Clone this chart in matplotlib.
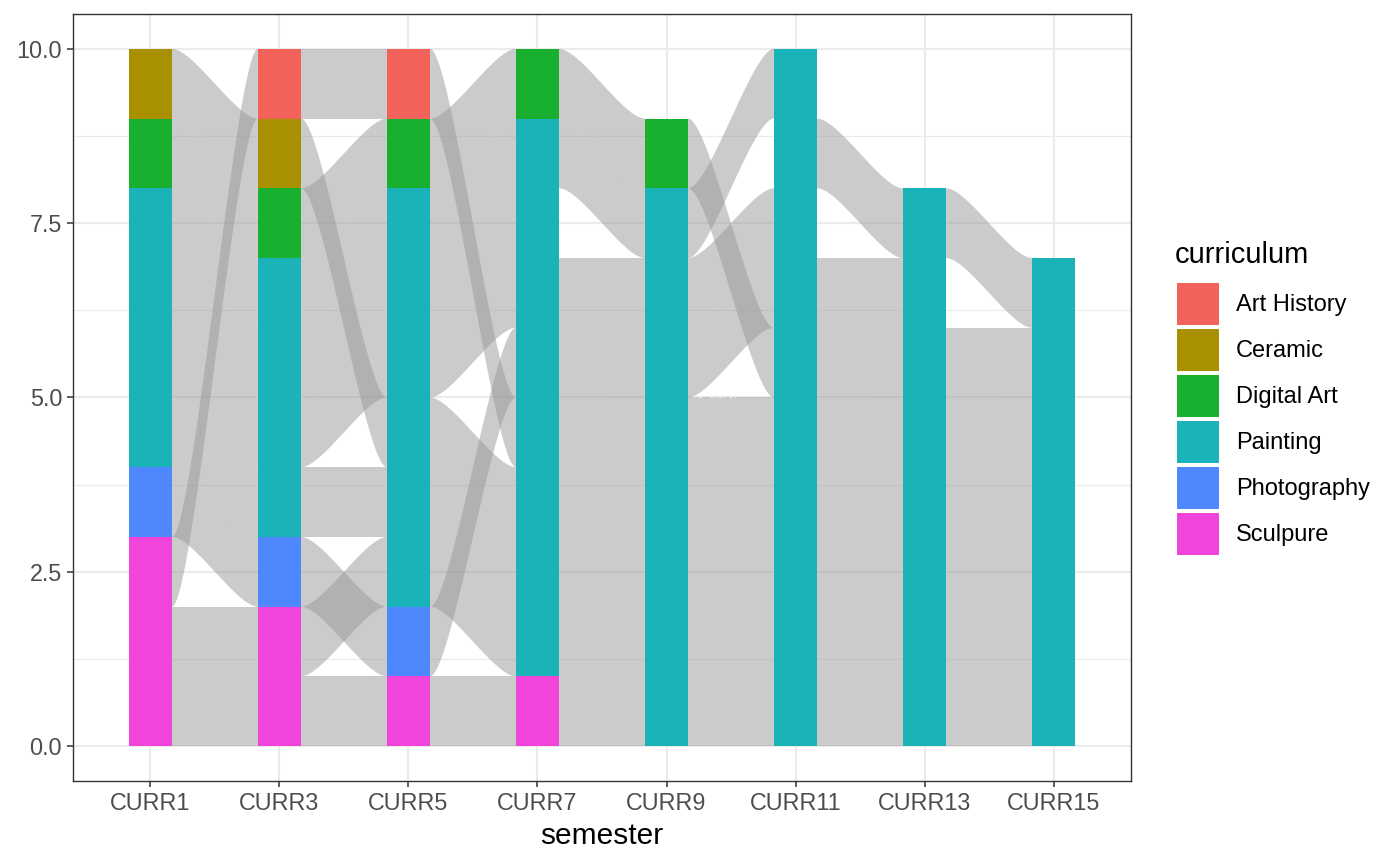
import numpy as np
import matplotlib
matplotlib.use("Agg")
import matplotlib.pyplot as plt
from matplotlib.patches import Rectangle, Polygon

plt.rcParams['font.family'] = ['Liberation Sans', 'DejaVu Sans']

# semestres y categorias
semesters = ["CURR1", "CURR3", "CURR5", "CURR7", "CURR9", "CURR11", "CURR13", "CURR15"]
curricula = ["Art History", "Ceramic", "Digital Art", "Painting", "Photography", "Sculpure"]
colors = ["#F3615B", "#A89000", "#1AB02F", "#19B3B8", "#4F87FF", "#F044DB"]

AH, CE, DA, PA, PH, SC = curricula
# one path per student, listed in stacking order (first = top within its stratum)
# None = student absent that semester
paths = [
    [PA, PA, PA, PA, PA, PA, None, None],
    [PA, PA, PA, PA, None, PA, PA, PA],
    [PA, PA, PA, PA, PA, PA, None, None],
    [PH, PH, PH, PA, PA, PA, PA, None],
    [DA, DA, DA, DA, DA, PA, PA, PA],
    [SC, AH, AH, PA, PA, PA, PA, PA],
    [CE, CE, PA, PA, PA, PA, PA, PA],
    [PA, PA, PA, PA, PA, PA, PA, PA],
    [SC, SC, PA, PA, PA, PA, PA, PA],
    [SC, SC, SC, SC, PA, PA, PA, PA],
]

n_sem = len(semesters)
xs = np.arange(1, n_sem + 1)
width = 1 / 3

# stack lodes: last curriculum at the bottom, first student on top of its stratum
lodes = {}
strata = []
for j in range(n_sem):
    y = 0
    for cur in reversed(curricula):
        start = y
        for s in reversed(range(len(paths))):
            if paths[s][j] == cur:
                lodes[(s, j)] = (y, y + 1)
                y += 1
        if y > start:
            strata.append((xs[j], start, y, cur))


def curve(x0, x1, y0, y1, n=80):
    t = np.linspace(0, 1, n)
    dx = x1 - x0
    bx = (1 - t)**3 * x0 + 3 * (1 - t)**2 * t * (x0 + dx / 4) + 3 * (1 - t) * t**2 * (x1 - dx / 4) + t**3 * x1
    by = (1 - t)**3 * y0 + 3 * (1 - t)**2 * t * y0 + 3 * (1 - t) * t**2 * y1 + t**3 * y1
    return bx, by


fig = plt.figure(figsize=(14, 8.66), dpi=100)
ax = fig.add_axes([73 / 1400, 1 - 781 / 866, (1131 - 73) / 1400, (781 - 14) / 866])

# flujos
for s in range(len(paths)):
    for j in range(n_sem - 1):
        if (s, j) in lodes and (s, j + 1) in lodes:
            a0, a1 = lodes[(s, j)]
            b0, b1 = lodes[(s, j + 1)]
            xa = xs[j] + width / 2
            xb = xs[j + 1] - width / 2
            cx, top = curve(xa, xb, a1, b1)
            _, bot = curve(xa, xb, a0, b0)
            pts = np.column_stack([np.r_[cx, cx[::-1]], np.r_[top, bot[::-1]]])
            ax.add_patch(Polygon(pts, closed=True, facecolor="#999999", alpha=0.5,
                                 linewidth=0, zorder=2))

# estratos
col = dict(zip(curricula, colors))
for x, y0, y1, cur in strata:
    ax.add_patch(Rectangle((x - width / 2, y0), width, y1 - y0, facecolor=col[cur],
                           linewidth=0, zorder=3))

ax.set_xlim(0.4, 8.6)
ax.set_ylim(-0.5, 10.5)
ax.set_xticks(xs)
ax.set_xticklabels(semesters)
ax.set_yticks([0, 2.5, 5, 7.5, 10])
ax.set_yticklabels(["0.0", "2.5", "5.0", "7.5", "10.0"])
ax.set_yticks([1.25, 3.75, 6.25, 8.75], minor=True)
ax.tick_params(axis='both', which='major', length=4.3, width=1.1, color="#333333",
               labelsize=16.8, labelcolor="#4D4D4D", pad=3.5)
ax.tick_params(axis='y', which='minor', length=0)
ax.grid(True, which='major', color="#EBEBEB", linewidth=1.5, zorder=0)
ax.grid(True, which='minor', axis='y', color="#EBEBEB", linewidth=0.8, zorder=0)
ax.set_axisbelow(True)
for sp in ax.spines.values():
    sp.set_color("#333333")
    sp.set_linewidth(1.0)

fig.text(602 / 1400, 1 - 836 / 866, "semester", fontsize=21.5, ha='center', va='center')

# leyenda
fig.text(1175 / 1400, 1 - 263 / 866, "curriculum", fontsize=21, ha='left', va='baseline')
for i, (cur, c) in enumerate(zip(curricula, colors)):
    top = 283 + 46 * i
    fig.add_artist(Rectangle((1177 / 1400, 1 - (top + 42) / 866), 42 / 1400, 42 / 866,
                             facecolor=c, linewidth=0, transform=fig.transFigure))
    fig.text(1236 / 1400, 1 - (top + 22) / 866, cur, fontsize=17, ha='left', va='center')

fig.savefig("out.png", dpi=100)
